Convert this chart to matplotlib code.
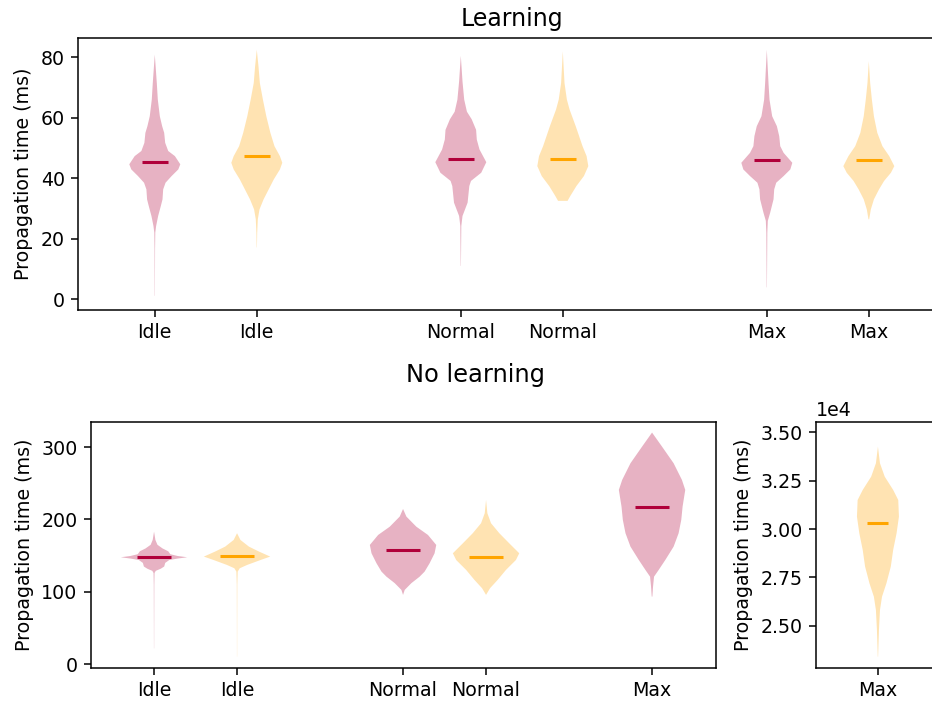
import numpy as np
import matplotlib
matplotlib.use("Agg")
import matplotlib.pyplot as plt

# ---- colours -------------------------------------------------------------
RED = "#b0003a"
ORANGE = "#ffa500"

# ---- Learning: density profiles (value in ms, relative density) ----------
learn_idle_red_y = [1.1, 16.5, 22.0, 24.2, 27.5, 30.8, 33.0, 36.3, 38.5, 40.7, 42.9,
                    44.6, 47.3, 49.0, 51.7, 55.0, 57.2, 60.5, 66.0, 71.5, 80.9]
learn_idle_red_d = [0.4, 0.8, 1.5, 4, 10, 18, 23, 25, 32, 50, 70,
                    76, 60, 40, 31, 28, 22, 15, 9, 6, 0]
learn_idle_org_y = [17.1, 22.0, 26.4, 29.7, 33.0, 36.3, 39.6, 42.9, 45.1, 47.3, 50.6,
                    55.0, 60.5, 66.0, 71.5, 77.0, 82.5]
learn_idle_org_d = [0.4, 1.2, 3, 8, 20, 35, 50, 68, 75, 68, 52,
                    40, 28, 18, 9, 5, 0]
learn_norm_red_y = [11.0, 24.2, 27.5, 31.9, 37.4, 39.1, 41.8, 45.3, 49.5, 52.8, 56.0,
                    59.5, 62.0, 66.0, 72.0, 80.5]
learn_norm_red_d = [0.4, 1.5, 5, 20, 25, 30, 60, 75, 55, 47, 45,
                    32, 18, 10, 5, 0]
learn_norm_org_y = [32.5, 34.1, 37.4, 40.7, 44.0, 47.3, 50.6, 53.9, 57.2, 62.7, 66.0,
                    71.5, 82.0]
learn_norm_org_d = [14, 22, 40, 62, 75, 70, 58, 48, 38, 20, 12, 5, 0]
learn_max_red_y = [3.9, 22.0, 25.9, 28.6, 33.0, 36.3, 38.5, 40.7, 42.9, 45.1, 48.4,
                   50.6, 53.9, 57.2, 60.5, 66.0, 71.5, 82.5]
learn_max_red_d = [0.4, 1.5, 3, 10, 20, 22, 28, 50, 70, 76, 50,
                   40, 37, 30, 16, 8, 5, 0]
learn_max_org_y = [26.4, 29.7, 33.0, 36.3, 39.1, 41.8, 44.0, 47.3, 50.6, 55.0, 60.5,
                   66.0, 71.5, 78.7]
learn_max_org_d = [1, 6, 15, 30, 45, 65, 75, 60, 40, 25, 15, 9, 4, 0]

learn_red_means = [45.3, 46.2, 45.9]
learn_org_means = [47.3, 46.4, 46.1]

# ---- No learning: density profiles ---------------------------------------
nolearn_idle_red_y = [22, 60, 110, 126, 129, 132, 135, 140, 144, 146, 147.8,
                      149.5, 152, 156, 160, 165, 171.7, 183.2]
nolearn_idle_red_d = [0.3, 0.5, 0.8, 1.5, 5, 20, 30, 33, 45, 70, 98,
                      70, 48, 42, 25, 10, 4, 0]
nolearn_idle_org_y = [10.6, 60, 110, 128, 132.6, 137.2, 144.1, 148.7, 155.6, 162.5,
                      171.7, 181]
nolearn_idle_org_d = [0.3, 0.5, 0.8, 2, 8, 30, 70, 98, 65, 35, 10, 0]
nolearn_norm_red_y = [95.8, 102.7, 112, 121, 128, 139.5, 153.3, 164.8, 178.6, 190,
                      204, 214.5]
nolearn_norm_red_d = [0, 5, 25, 50, 65, 80, 95, 100, 75, 40, 10, 0]
nolearn_norm_org_y = [95.8, 105, 116.5, 130.3, 144, 153.3, 167, 181, 194.8, 208.6, 227]
nolearn_norm_org_d = [0, 12, 35, 60, 90, 100, 70, 40, 15, 4, 0]
nolearn_max_red_y = [93.5, 107.3, 121, 130.3, 144.1, 162.5, 181, 199.4, 217.8, 240.8,
                     254.6, 277.6, 300.6, 320]
nolearn_max_red_d = [1, 3, 6, 20, 40, 65, 80, 88, 92, 100, 90, 65, 30, 0]
nolearn_max_org_y = [23400, 24780, 25810, 26500, 27190, 28060, 28920, 29780, 30640,
                     31500, 32020, 32710, 33400, 34260]
nolearn_max_org_d = [0.5, 3, 6, 12, 25, 38, 45, 55, 62, 60, 45, 20, 6, 0]

nolearn_red_means = [148.7, 157.9, 216.9]
nolearn_org_means = [150.1, 148.7, 30330]

top_labels = ["Idle", "Idle", "Normal", "Normal", "Max", "Max"]
bottom_labels = ["Idle", "Idle", "Normal", "Normal", "Max"]
right_labels = ["Max"]


def stats(ys, dens, mean):
    ys = np.asarray(ys, float)
    return dict(coords=ys, vals=np.asarray(dens, float), mean=mean,
                median=mean, min=ys.min(), max=ys.max())


def draw(ax, profiles, means, positions, color, width):
    vp = [stats(y, d, m) for (y, d), m in zip(profiles, means)]
    parts = ax.violin(vp, positions=positions, widths=width,
                      showmeans=True, showextrema=False)
    for body in parts["bodies"]:
        body.set_facecolor(color)
        body.set_edgecolor("none")
        body.set_linewidth(0)
        body.set_alpha(0.3)
    parts["cmeans"].set_color(color)
    parts["cmeans"].set_linewidth(1.6)


fig = plt.figure(figsize=(932 / 137, 704 / 137), dpi=137)

# Learning
ax1 = fig.add_axes([0.0840, 0.5597, 0.9303, 0.3868])
draw(ax1, [(learn_idle_red_y, learn_idle_red_d), (learn_norm_red_y, learn_norm_red_d),
           (learn_max_red_y, learn_max_red_d)], learn_red_means, [1, 4, 7], RED, 0.5)
draw(ax1, [(learn_idle_org_y, learn_idle_org_d), (learn_norm_org_y, learn_norm_org_d),
           (learn_max_org_y, learn_max_org_d)], learn_org_means, [2, 5, 8], ORANGE, 0.5)
ax1.set_xlim(0.25, 8.75)
ax1.set_ylim(-3.6, 86.5)
ax1.set_xticks([1, 2, 4, 5, 7, 8], top_labels)
ax1.set_yticks([0, 20, 40, 60, 80])
ax1.set_ylabel("Propagation time (ms)")
ax1.set_title("Learning", fontsize=12.4)

# No learning
ax2 = fig.add_axes([0.0976, 0.0516, 0.6706, 0.3494])
draw(ax2, [(nolearn_idle_red_y, nolearn_idle_red_d), (nolearn_norm_red_y, nolearn_norm_red_d),
           (nolearn_max_red_y, nolearn_max_red_d)], nolearn_red_means, [1, 4, 7], RED, 0.8)
draw(ax2, [(nolearn_idle_org_y, nolearn_idle_org_d), (nolearn_norm_org_y, nolearn_norm_org_d)],
     nolearn_org_means[:2], [2, 5], ORANGE, 0.8)
ax2.set_xlim(0.24, 7.77)
ax2.set_ylim(-4.7, 335)
ax2.set_xticks([1, 2, 4, 5, 7], bottom_labels)
ax2.set_yticks([0, 100, 200, 300])
ax2.set_ylabel("Propagation time (ms)")

ax3 = fig.add_axes([0.8755, 0.0516, 0.1330, 0.3494])
draw(ax3, [(nolearn_max_org_y, nolearn_max_org_d)], nolearn_org_means[2:], [1], ORANGE, 0.5)
ax3.set_xlim(0.262, 1.738)
ax3.set_ylim(22830, 35550)
ax3.set_xticks([1], right_labels)
ax3.set_yticks([25000, 27500, 30000, 32500, 35000])
ax3.ticklabel_format(axis="y", style="sci", scilimits=(4, 4))
ax3.set_ylabel("Propagation time (ms)")

fig.text(475 / 932, 1 - 375 / 704, "No learning", ha="center", va="center", fontsize=12.7)

fig.savefig("out.png", dpi=137)
